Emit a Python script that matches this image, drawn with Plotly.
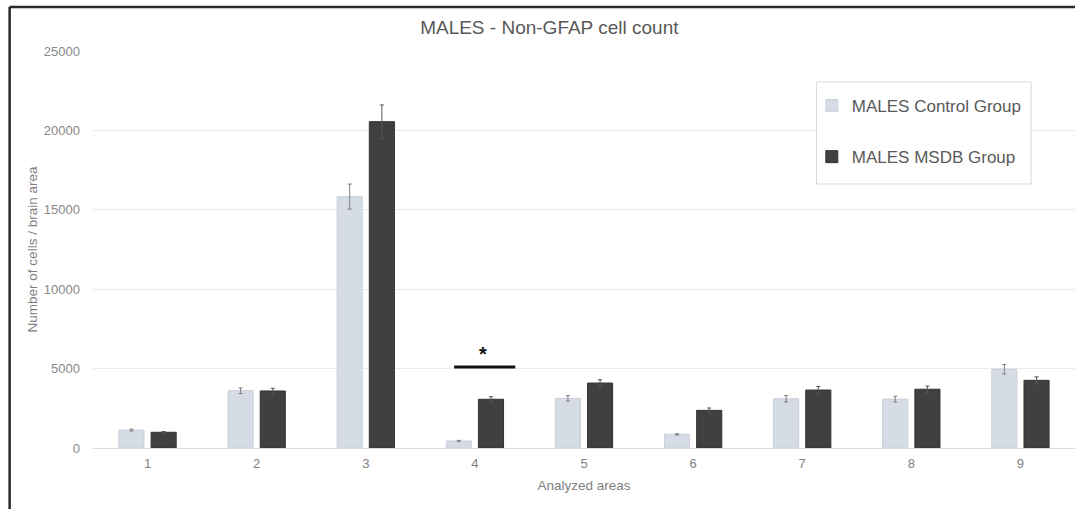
import plotly.graph_objects as go

areas = [1, 2, 3, 4, 5, 6, 7, 8, 9]
control = [1130, 3610, 15830, 440, 3130, 860, 3100, 3080, 4960]
control_err = [60, 180, 790, 40, 170, 40, 200, 180, 300]
msdb = [990, 3590, 20550, 3070, 4090, 2370, 3650, 3700, 4260]
msdb_err = [50, 170, 1050, 160, 210, 150, 220, 200, 220]
y_ticks = [0, 5000, 10000, 15000, 20000, 25000]
sig_area = 4
sig_level = 5100

FONT = "Liberation Sans, Arial, sans-serif"

fig = go.Figure()
fig.add_trace(go.Bar(
    x=areas, y=control, name="MALES Control Group", legendgroup="a",
    marker=dict(color="#d6dce5", line=dict(color="#c9d0da", width=1)),
    error_y=dict(type="data", array=control_err, color="#7f7f7f", thickness=1, width=2),
))
fig.add_trace(go.Bar(
    x=areas, y=msdb, name="MALES MSDB Group", legendgroup="b",
    marker=dict(color="#404040", line=dict(color="#333333", width=1)),
    error_y=dict(type="data", array=msdb_err, color="#555555", thickness=1, width=2),
))

# significance marker
fig.add_shape(type="line", xref="x", yref="y",
              x0=sig_area - 0.19, x1=sig_area + 0.37, y0=sig_level, y1=sig_level,
              line=dict(color="#111111", width=3))
fig.add_annotation(x=sig_area + 0.07, y=sig_level, yshift=13, text="<b>*</b>",
                   showarrow=False, font=dict(size=20, color="#111111", family=FONT))

# legend box
fig.add_shape(type="rect", xref="paper", yref="paper", layer="above",
              x0=0.7368, x1=0.9553, y0=0.665, y1=0.9219,
              fillcolor="white", line=dict(color="#d9d9d9", width=1))

# frame lines (top and left)
fig.add_shape(type="line", xref="paper", yref="paper",
              x0=-0.085, x1=1.01, y0=1.1108, y1=1.1108,
              line=dict(color="#2a2a2a", width=2.5))
fig.add_shape(type="line", xref="paper", yref="paper",
              x0=-0.0849, x1=-0.0849, y0=-0.2, y1=1.1108,
              line=dict(color="#2a2a2a", width=2.5))

fig.update_layout(
    width=1075, height=509,
    margin=dict(l=93, r=0, t=51, b=61),
    paper_bgcolor="white", plot_bgcolor="white",
    barmode="group", bargap=0.41, bargroupgap=0.22,
    title=dict(text="MALES - Non-GFAP cell count", x=0.511, xanchor="center",
               y=0.947, yanchor="middle",
               font=dict(family=FONT, size=19, color="#595959")),
    font=dict(family=FONT, color="#7f7f7f"),
    xaxis=dict(range=[0.5, 9.5], tickvals=areas, ticktext=[str(a) for a in areas],
               showgrid=False, zeroline=False, showline=False,
               ticklabelstandoff=6,
               tickfont=dict(size=13, color="#7f7f7f"),
               title=dict(text="Analyzed areas", font=dict(size=13.5, color="#7f7f7f"), standoff=10)),
    yaxis=dict(range=[0, 25000], tickvals=y_ticks, ticktext=[str(t) for t in y_ticks],
               showgrid=True, gridcolor="#ebebeb", gridwidth=1,
               zeroline=True, zerolinecolor="#dcdcdc", zerolinewidth=1,
               showline=False, ticks="", ticklabelstandoff=12,
               tickfont=dict(size=13, color="#888888"),
               title=dict(text="Number of cells / brain area", font=dict(size=13.5, color="#7f7f7f"),
                          standoff=3)),
    showlegend=True,
    legend=dict(x=0.732, y=0.9068, xanchor="left", yanchor="top",
                bgcolor="rgba(0,0,0,0)", borderwidth=0,
                font=dict(family=FONT, size=17, color="#595959"),
                tracegroupgap=26, traceorder="grouped",
                itemwidth=30),
)

fig.write_html("out.html", config={"displayModeBar": False},
               post_script="document.body.style.margin='0';")
